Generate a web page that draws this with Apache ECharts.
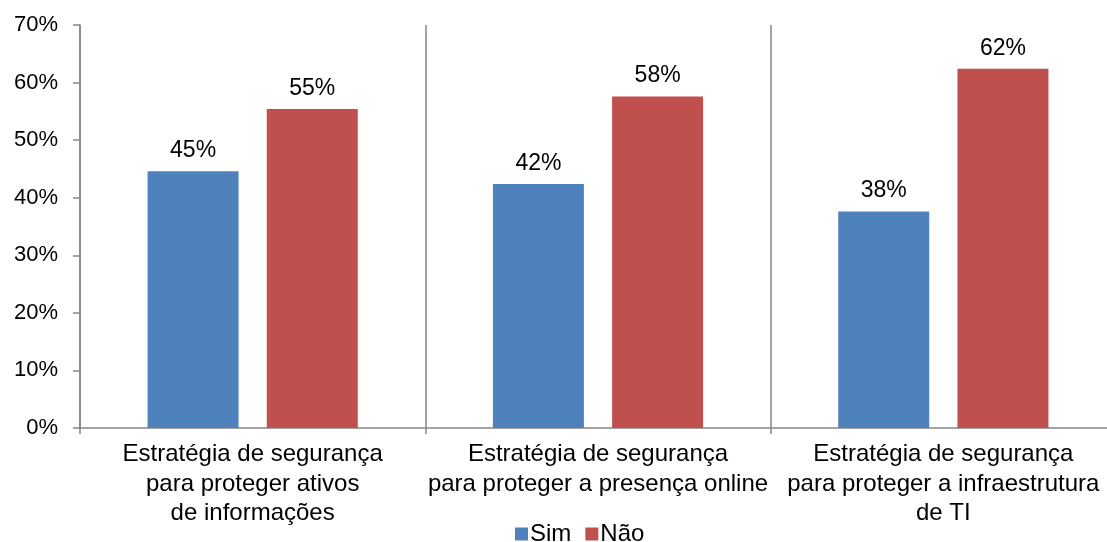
<!DOCTYPE html>
<html>
<head>
<meta charset="utf-8">
<script src="https://cdn.jsdelivr.net/npm/echarts@6/dist/echarts.min.js"></script>
<style>
  html, body { margin: 0; padding: 0; background: #fff; }
</style>
</head>
<body>
<div id="chart" style="width:1107px;height:542px;"></div>
<script>
// categorias e valores (%)
const categories = [
  'Estratégia de segurança\npara proteger ativos\nde informações',
  'Estratégia de segurança\npara proteger a presença online',
  'Estratégia de segurança\npara proteger a infraestrutura\nde TI'
]
const simValues = [44.6, 42.4, 37.6]
const naoValues = [55.4, 57.6, 62.4]

const font = 'Liberation Sans, Arial, sans-serif'
const axisGray = '#868686'

const chart = echarts.init(document.getElementById('chart'))

const labelStyle = {
  show: true,
  position: 'top',
  distance: 9,
  color: '#000',
  fontFamily: font,
  fontSize: 23,
  formatter: p => Math.round(p.value) + '%'
}

chart.setOption({
  animation: false,
  grid: { left: 80, width: 1036, top: 25, bottom: 114, outerBoundsMode: 'none' },
  legend: {
    bottom: -9,
    left: 510,
    itemWidth: 13,
    itemHeight: 13,
    itemGap: 14,
    icon: 'rect',
    textStyle: { fontFamily: font, fontSize: 24, color: '#000', padding: [0, 0, 0, -3] },
    data: ['Sim', 'Não']
  },
  xAxis: {
    type: 'category',
    data: categories,
    axisLine: { lineStyle: { color: axisGray, width: 1.5 } },
    axisTick: { show: true, length: 6, lineStyle: { color: axisGray, width: 1.5 } },
    splitLine: { show: true, lineStyle: { color: axisGray, width: 1.5 } },
    axisLabel: {
      interval: 0,
      margin: 12,
      color: '#000',
      fontFamily: font,
      fontSize: 24,
      lineHeight: 29.5,
      align: 'center'
    }
  },
  yAxis: {
    type: 'value',
    min: 0,
    max: 70,
    interval: 10,
    axisLine: { show: true, lineStyle: { color: axisGray, width: 1.5 } },
    axisTick: { show: true, length: 7, lineStyle: { color: axisGray, width: 1.5 } },
    splitLine: { show: false },
    axisLabel: {
      margin: 22,
      color: '#000',
      fontFamily: font,
      fontSize: 22,
      formatter: '{value}%'
    }
  },
  series: [
    {
      name: 'Sim',
      type: 'bar',
      data: simValues,
      barWidth: 91,
      barGap: '31%',
      itemStyle: { color: '#4F81BD' },
      label: labelStyle
    },
    {
      name: 'Não',
      type: 'bar',
      data: naoValues,
      barWidth: 91,
      itemStyle: { color: '#C0504D' },
      label: labelStyle
    }
  ]
})
</script>
</body>
</html>
